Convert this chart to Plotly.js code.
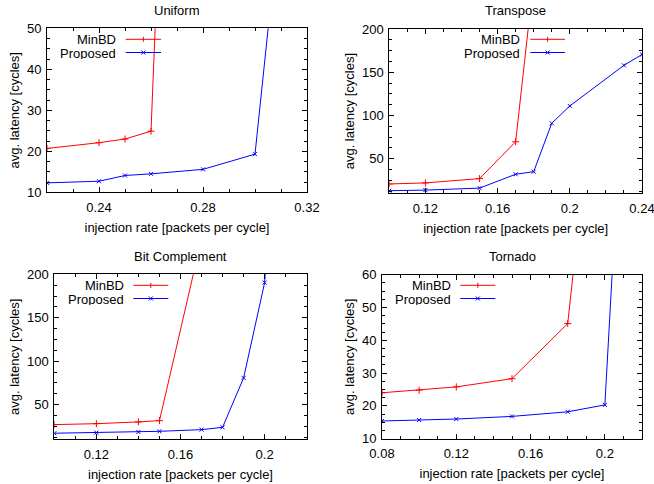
<!DOCTYPE html>
<html>
<head>
<meta charset="utf-8">
<script src="https://cdn.plot.ly/plotly-3.0.1.min.js"></script>
<style>html,body{margin:0;padding:0;background:#fff;}#chart{width:654px;height:484px;}</style>
</head>
<body>
<div id="chart"></div>
<script>
// ---- data ----
const uniformMinBDX = [0.22, 0.24, 0.25, 0.26, 0.27];
const uniformMinBDY = [20.7, 22.1, 23.0, 24.9, 182];
const uniformPropX  = [0.22, 0.24, 0.25, 0.26, 0.28, 0.30, 0.31];
const uniformPropY  = [12.3, 12.7, 14.1, 14.5, 15.6, 19.3, 80];

const transposeMinBDX = [0.10, 0.12, 0.15, 0.17, 0.18];
const transposeMinBDY = [20.8, 22, 27, 69.6, 258];
const transposePropX  = [0.10, 0.12, 0.15, 0.17, 0.18, 0.19, 0.20, 0.23, 0.24];
const transposePropY  = [13, 13.7, 16, 32, 35, 91, 111, 158, 170.5];

const bitMinBDX = [0.10, 0.12, 0.14, 0.15, 0.17];
const bitMinBDY = [26.9, 28, 30, 31.5, 241];
const bitPropX  = [0.10, 0.12, 0.14, 0.15, 0.17, 0.18, 0.19, 0.20, 0.21];
const bitPropY  = [17, 17.7, 18.4, 19.2, 21.1, 23.8, 80.7, 190.4, 550];

const tornadoMinBDX = [0.08, 0.10, 0.12, 0.15, 0.18, 0.19];
const tornadoMinBDY = [24.0, 24.8, 25.8, 28.3, 45.1, 97];
const tornadoPropX  = [0.08, 0.10, 0.12, 0.15, 0.18, 0.20, 0.21];
const tornadoPropY  = [15.4, 15.7, 16.0, 16.8, 18.2, 20.3, 122];

const panelTitles = ["Uniform", "Transpose", "Bit Complement", "Tornado"];
const seriesNames = ["MinBD", "Proposed"];
const xTitle = "injection rate [packets per cycle]";
const yTitle = "avg. latency [cycles]";

// ---- layout helpers ----
const W = 654, H = 484;
const px = v => v / W;
const py = v => 1 - v / H;

const RED = '#ff0000', BLUE = '#0000ff';
const FONT = 'Liberation Sans, Arial, Helvetica, sans-serif';
const FS = 13;

function tr(x, y, name, ax, isMin) {
  return {
    x: x, y: y, name: name, type: 'scatter', mode: 'lines+markers',
    xaxis: 'x' + ax, yaxis: 'y' + ax, showlegend: false,
    line: {color: isMin ? RED : BLUE, width: 1},
    marker: {symbol: isMin ? 'cross-thin-open' : 'x-thin-open', size: isMin ? 5 : 4,
             color: isMin ? RED : BLUE, line: {color: isMin ? RED : BLUE, width: 1}}
  };
}

const data = [
  tr(uniformMinBDX, uniformMinBDY, seriesNames[0], '', true),
  tr(uniformPropX, uniformPropY, seriesNames[1], '', false),
  tr(transposeMinBDX, transposeMinBDY, seriesNames[0], '2', true),
  tr(transposePropX, transposePropY, seriesNames[1], '2', false),
  tr(bitMinBDX, bitMinBDY, seriesNames[0], '3', true),
  tr(bitPropX, bitPropY, seriesNames[1], '3', false),
  tr(tornadoMinBDX, tornadoMinBDY, seriesNames[0], '4', true),
  tr(tornadoPropX, tornadoPropY, seriesNames[1], '4', false)
];

// plot areas in pixels: [left, right, top, bottom]
const boxes = [
  [47, 307, 28.3, 192.3],
  [389.3, 642, 29, 193.3],
  [54.3, 306.7, 274.3, 439.3],
  [382, 642, 274.7, 438.7]
];
const xr = [[0.22, 0.3200001], [0.10, 0.2400001], [0.10, 0.22], [0.08, 0.22]];
const yr = [[10, 50], [10, 200], [10, 200], [10, 60]];
const ydt = [10, 50, 50, 10];

function xa(i) {
  const b = boxes[i];
  return {
    domain: [px(b[0]), px(b[1])], range: xr[i], anchor: i ? 'y' + (i + 1) : 'y',
    dtick: 0.04, tick0: 0, ticks: 'inside', ticklen: 5, tickwidth: 1, tickcolor: '#000',
    minor: {dtick: 0.01, ticks: 'inside', ticklen: 3, tickcolor: '#000'},
    showline: true, linecolor: '#000', linewidth: 1, mirror: 'allticks',
    showgrid: false, zeroline: false, tickfont: {size: FS, color: '#000', family: FONT},
    ticklabelstandoff: 3, ticklabeloverflow: 'allow',
    title: {text: xTitle, font: {size: FS, color: '#000', family: FONT}, standoff: 8}
  };
}
function ya(i) {
  const b = boxes[i];
  return {
    domain: [py(b[3]), py(b[2])], range: yr[i], anchor: i ? 'x' + (i + 1) : 'x',
    dtick: ydt[i], tick0: 0, ticks: 'inside', ticklen: 5, tickwidth: 1, tickcolor: '#000',
    minor: {dtick: ydt[i] / 4, ticks: 'inside', ticklen: 3, tickcolor: '#000'},
    showline: true, linecolor: '#000', linewidth: 1, mirror: 'allticks',
    showgrid: false, zeroline: false, tickfont: {size: FS, color: '#000', family: FONT},
    ticklabelstandoff: 2, ticklabeloverflow: 'allow',
    title: {text: yTitle, font: {size: FS, color: '#000', family: FONT}, standoff: 4}
  };
}

const annotations = [];
const shapes = [];
// subplot titles
const titlePos = [[177, 10], [515.6, 10], [180.5, 256], [512, 256]];
panelTitles.forEach((t, i) => {
  annotations.push({text: t, xref: 'paper', yref: 'paper', x: px(titlePos[i][0]), y: py(titlePos[i][1]),
    xanchor: 'center', yanchor: 'middle', showarrow: false, font: {size: FS, color: '#000', family: FONT}});
});
// gnuplot-style keys: text right-aligned, then sample line with marker
const keys = [
  {tx: 117, l0: 125.7, l1: 161, y0: 39.3},
  {tx: 521.3, l0: 530.3, l1: 565, y0: 39.3},
  {tx: 125, l0: 133.3, l1: 168.3, y0: 285.3},
  {tx: 452, l0: 460.3, l1: 495.3, y0: 285.3}
];
keys.forEach(k => {
  [0, 1].forEach(s => {
    const yy = k.y0 + s * 13.2;
    const col = s === 0 ? RED : BLUE;
    annotations.push({text: seriesNames[s], xref: 'paper', yref: 'paper', x: px(k.tx), y: py(yy),
      xanchor: 'right', yanchor: 'middle', showarrow: false, height: 12, borderpad: 0,
      font: {size: FS, color: '#000', family: FONT}});
    shapes.push({type: 'line', xref: 'paper', yref: 'paper', x0: px(k.l0), x1: px(k.l1), y0: py(yy), y1: py(yy),
      line: {color: col, width: 1}});
    const mx = (k.l0 + k.l1) / 2;
    if (s === 0) {
      shapes.push({type: 'line', xref: 'paper', yref: 'paper', x0: px(mx), x1: px(mx), y0: py(yy - 2.5), y1: py(yy + 2.5),
        line: {color: col, width: 1}});
    } else {
      shapes.push({type: 'line', xref: 'paper', yref: 'paper', x0: px(mx - 2), x1: px(mx + 2), y0: py(yy - 2), y1: py(yy + 2),
        line: {color: col, width: 1}});
      shapes.push({type: 'line', xref: 'paper', yref: 'paper', x0: px(mx - 2), x1: px(mx + 2), y0: py(yy + 2), y1: py(yy - 2),
        line: {color: col, width: 1}});
    }
  });
});

const layout = {
  width: W, height: H, margin: {l: 0, r: 0, t: 0, b: 0},
  paper_bgcolor: '#fff', plot_bgcolor: '#fff', showlegend: false,
  font: {family: FONT, size: FS, color: '#000'},
  xaxis: xa(0), yaxis: ya(0), xaxis2: xa(1), yaxis2: ya(1),
  xaxis3: xa(2), yaxis3: ya(2), xaxis4: xa(3), yaxis4: ya(3),
  annotations: annotations, shapes: shapes
};

Plotly.newPlot('chart', data, layout, {displayModeBar: false, staticPlot: true});
</script>
</body>
</html>
